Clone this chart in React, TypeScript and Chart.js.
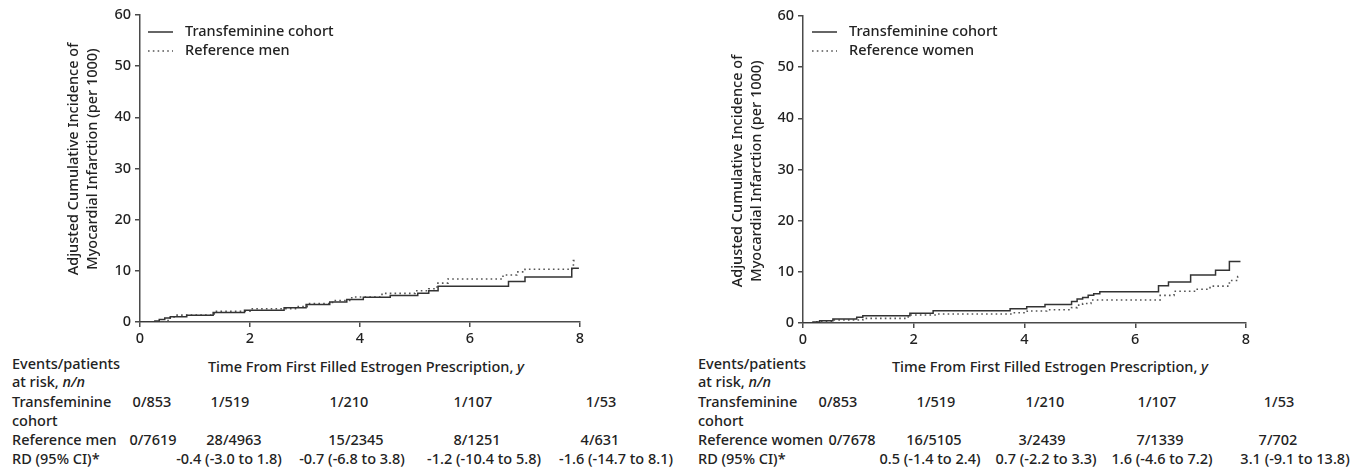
import React, { useEffect, useRef } from 'react';
import { Chart, registerables } from 'chart.js';

Chart.register(...registerables);

const FONT = '"Noto Sans", "DejaVu Sans", sans-serif';
const WEIGHT = 500;
const TEXT = '#222222';
const AXIS = '#4a4a4a';

// ---------- DATA ----------
const tickYears = [0, 2, 4, 6, 8];

// Left panel (vs reference men)
const leftCohortT = [0, 0.27, 0.35, 0.45, 0.55, 0.85, 1.33, 1.9, 2.62, 3.02, 3.45, 3.76, 4.06, 4.55, 5.05, 5.25, 5.42, 6.7, 7.0, 7.85, 7.98];
const leftCohortV = [0, 0.2, 0.5, 0.8, 1.05, 1.3, 1.85, 2.3, 2.8, 3.4, 3.9, 4.4, 4.85, 5.2, 5.6, 6.1, 7.0, 7.9, 8.8, 10.5, 10.5];
const leftRefT = [0, 0.45, 0.55, 0.65, 1.35, 2.0, 2.85, 3.04, 3.5, 3.85, 4.4, 5.0, 5.25, 5.4, 5.6, 6.6, 6.85, 7.0, 7.8, 7.88, 7.95];
const leftRefV = [0, 0.3, 1.0, 1.35, 2.1, 2.6, 3.0, 3.6, 4.2, 4.9, 5.6, 6.1, 6.5, 7.6, 8.4, 9.2, 9.8, 10.3, 10.4, 12.0, 12.0];

// Right panel (vs reference women)
const rightCohortT = [0, 0.18, 0.3, 0.54, 0.97, 1.08, 1.93, 2.35, 3.74, 4.04, 4.37, 4.85, 4.95, 5.05, 5.15, 5.25, 5.36, 6.42, 6.6, 7.0, 7.45, 7.7, 7.9];
const rightCohortV = [0, 0.2, 0.45, 0.8, 1.1, 1.4, 1.9, 2.4, 2.8, 3.2, 3.6, 4.2, 4.7, 5.0, 5.4, 5.7, 6.1, 7.3, 8.0, 9.4, 10.3, 12.0, 12.0];
const rightRefT = [0, 0.25, 0.54, 1.08, 1.9, 2.4, 3.8, 4.05, 4.4, 4.85, 4.95, 5.05, 5.2, 6.45, 6.7, 7.1, 7.35, 7.7, 7.85, 7.9];
const rightRefV = [0, 0.25, 0.6, 0.9, 1.55, 1.75, 2.0, 2.35, 2.6, 3.0, 3.5, 3.8, 4.5, 5.4, 6.2, 6.6, 7.2, 8.3, 9.1, 9.1];

const cohortLabel = 'Transfeminine cohort';
const refMenLabel = 'Reference men';
const refWomenLabel = 'Reference women';
const yTitleLines = ['Adjusted Cumulative Incidence of', 'Myocardial Infarction (per 1000)'];

const leftCohortAtRisk = ['0/853', '1/519', '1/210', '1/107', '1/53'];
const leftRefAtRisk = ['0/7619', '28/4963', '15/2345', '8/1251', '4/631'];
const leftRD = ['-0.4 (-3.0 to 1.8)', '-0.7 (-6.8 to 3.8)', '-1.2 (-10.4 to 5.8)', '-1.6 (-14.7 to 8.1)'];
const rightCohortAtRisk = ['0/853', '1/519', '1/210', '1/107', '1/53'];
const rightRefAtRisk = ['0/7678', '16/5105', '3/2439', '7/1339', '7/702'];
const rightRD = ['0.5 (-1.4 to 2.4)', '0.7 (-2.2 to 3.3)', '1.6 (-4.6 to 7.2)', '3.1 (-9.1 to 13.8)'];

// ---------- LAYOUT ----------
const ROW_Y = { events: 363, atRisk: 381, cohort: 401, cohort2: 420, ref: 439, rd: 458 };

const toPoints = (t: number[], v: number[]) => t.map((x, i) => ({ x, y: v[i] }));

const overlayPlugin = {
  id: 'overlay',
  afterDraw(chart: any, _args: any, opts: any) {
    const ctx = chart.ctx as CanvasRenderingContext2D;
    ctx.save();
    ctx.font = `${WEIGHT} 14.5px ${FONT}`;
    ctx.fillStyle = TEXT;
    ctx.textBaseline = 'middle';
    ctx.textAlign = 'left';
    // legend
    (opts.items || []).forEach((it: any, i: number) => {
      const y = opts.legendY + i * opts.legendGap;
      ctx.beginPath();
      ctx.strokeStyle = it.color;
      ctx.lineWidth = 1.5;
      ctx.setLineDash(it.dash);
      ctx.moveTo(opts.legendX, y);
      ctx.lineTo(opts.legendX + 25, y);
      ctx.stroke();
      ctx.setLineDash([]);
      ctx.fillText(it.label, opts.legendX + 37, y);
    });
    // y title
    ctx.textAlign = 'center';
    yTitleLines.forEach((line, i) => {
      ctx.save();
      ctx.translate(opts.yTitleX[i], opts.yTitleCY);
      ctx.rotate(-Math.PI / 2);
      ctx.fillText(line, 0, 0);
      ctx.restore();
    });
    ctx.restore();
  },
};

type PanelProps = {
  left: number;
  width: number;
  axisX: number;
  plotRight: number;
  plotTop: number;
  plotBottom: number;
  cohort: { x: number; y: number }[];
  ref: { x: number; y: number }[];
  refLabel: string;
  legendX: number;
  yTitleX: number[];
  yTitleCY: number;
};

const PANEL_H = 350;

function Panel(p: PanelProps) {
  const ref = useRef<HTMLCanvasElement | null>(null);
  useEffect(() => {
    if (!ref.current) return;
    const tickFont = { family: FONT, size: 14.5, weight: WEIGHT as any };
    const chart = new Chart(ref.current, {
      type: 'line',
      data: {
        datasets: [
          {
            label: cohortLabel,
            data: p.cohort,
            borderColor: '#333333',
            borderWidth: 1.5,
            stepped: true,
            pointRadius: 0,
            fill: false,
          },
          {
            label: p.refLabel,
            data: p.ref,
            borderColor: '#555555',
            borderWidth: 1.6,
            borderDash: [1.6, 3.2],
            stepped: true,
            pointRadius: 0,
            fill: false,
          },
        ],
      },
      options: {
        animation: false,
        responsive: true,
        maintainAspectRatio: false,
        layout: { padding: { top: p.plotTop, right: p.width - p.plotRight, left: 0, bottom: 0 } },
        plugins: {
          legend: { display: false },
          tooltip: { enabled: false },
          overlay: {
            items: [
              { label: cohortLabel, color: '#333333', dash: [] },
              { label: p.refLabel, color: '#555555', dash: [1.6, 3.2] },
            ],
            legendX: p.legendX,
            legendY: 32,
            legendGap: 19,
            yTitleX: p.yTitleX,
            yTitleCY: p.yTitleCY,
          },
        } as any,
        scales: {
          x: {
            type: 'linear',
            min: tickYears[0],
            max: tickYears[tickYears.length - 1],
            ticks: { stepSize: 2, color: TEXT, font: tickFont, padding: 3, maxRotation: 0, callback: (v: any) => String(v) },
            grid: { drawOnChartArea: false, drawTicks: true, tickLength: 5, color: AXIS, lineWidth: 1.5 },
            border: { color: AXIS, width: 1.5 },
            afterFit: (s: any) => {
              s.height = PANEL_H - p.plotBottom;
            },
          },
          y: {
            type: 'linear',
            min: 0,
            max: 60,
            ticks: { stepSize: 10, color: TEXT, font: tickFont, padding: 4 },
            grid: { drawOnChartArea: false, drawTicks: true, tickLength: 5, color: AXIS, lineWidth: 1.5 },
            border: { color: AXIS, width: 1.5 },
            afterFit: (s: any) => {
              s.width = p.axisX;
            },
          },
        },
      },
      plugins: [overlayPlugin],
    });
    return () => chart.destroy();
  }, []);
  return (
    <div style={{ position: 'absolute', left: p.left, top: 0, width: p.width, height: PANEL_H }}>
      <canvas ref={ref} />
    </div>
  );
}

const cellStyle = (x: number, y: number): React.CSSProperties => ({
  position: 'absolute',
  left: x,
  top: y,
  transform: 'translate(-50%, -50%)',
  whiteSpace: 'nowrap',
});
const labelStyle = (x: number, y: number): React.CSSProperties => ({
  position: 'absolute',
  left: x,
  top: y,
  transform: 'translateY(-50%)',
  whiteSpace: 'nowrap',
});

type TableProps = {
  labelX: number;
  titleX: number;
  refLabel: string;
  cohortXs: number[];
  refXs: number[];
  rdXs: number[];
  cohort: string[];
  refs: string[];
  rd: string[];
};

function RiskTable(t: TableProps) {
  return (
    <>
      <span style={labelStyle(t.labelX, ROW_Y.events)}>Events/patients</span>
      <span style={labelStyle(t.labelX, ROW_Y.atRisk)}>
        at risk, <i>n/n</i>
      </span>
      <span style={cellStyle(t.titleX, ROW_Y.events + 3)}>
        Time From First Filled Estrogen Prescription, <i>y</i>
      </span>
      <span style={labelStyle(t.labelX, ROW_Y.cohort)}>Transfeminine</span>
      <span style={labelStyle(t.labelX, ROW_Y.cohort2)}>cohort</span>
      <span style={labelStyle(t.labelX, ROW_Y.ref)}>{t.refLabel}</span>
      <span style={labelStyle(t.labelX, ROW_Y.rd)}>RD (95% CI)*</span>
      {t.cohort.map((s, i) => (
        <span key={'c' + i} style={cellStyle(t.cohortXs[i], ROW_Y.cohort)}>{s}</span>
      ))}
      {t.refs.map((s, i) => (
        <span key={'r' + i} style={cellStyle(t.refXs[i], ROW_Y.ref)}>{s}</span>
      ))}
      {t.rd.map((s, i) => (
        <span key={'d' + i} style={cellStyle(t.rdXs[i], ROW_Y.rd)}>{s}</span>
      ))}
    </>
  );
}

export default function App() {
  return (
    <div
      style={{
        position: 'fixed',
        left: 0,
        top: 0,
        width: 1371,
        height: 474,
        background: '#ffffff',
        fontFamily: FONT,
        fontSize: '14.5px',
        fontWeight: WEIGHT,
        color: TEXT,
        overflow: 'hidden',
      }}
    >
      <Panel
        left={0}
        width={690}
        axisX={140}
        plotRight={580}
        plotTop={15}
        plotBottom={322}
        cohort={toPoints(leftCohortT, leftCohortV)}
        ref={toPoints(leftRefT, leftRefV)}
        refLabel={refMenLabel}
        legendX={148}
        yTitleX={[74, 93]}
        yTitleCY={159}
      />
      <Panel
        left={690}
        width={681}
        axisX={113}
        plotRight={556}
        plotTop={16}
        plotBottom={323}
        cohort={toPoints(rightCohortT, rightCohortV)}
        ref={toPoints(rightRefT, rightRefV)}
        refLabel={refWomenLabel}
        legendX={122}
        yTitleX={[48, 67]}
        yTitleCY={171}
      />
      <RiskTable
        labelX={12}
        titleX={366}
        refLabel={refMenLabel}
        cohortXs={[152, 230, 349, 473, 601]}
        refXs={[153, 234, 356, 477, 600]}
        rdXs={[229, 352, 484, 616]}
        cohort={leftCohortAtRisk}
        refs={leftRefAtRisk}
        rd={leftRD}
      />
      <RiskTable
        labelX={698}
        titleX={1050}
        refLabel={refWomenLabel}
        cohortXs={[838, 936, 1045, 1157, 1279]}
        refXs={[852, 934, 1042, 1160, 1278]}
        rdXs={[930, 1046, 1162, 1295]}
        cohort={rightCohortAtRisk}
        refs={rightRefAtRisk}
        rd={rightRD}
      />
    </div>
  );
}
